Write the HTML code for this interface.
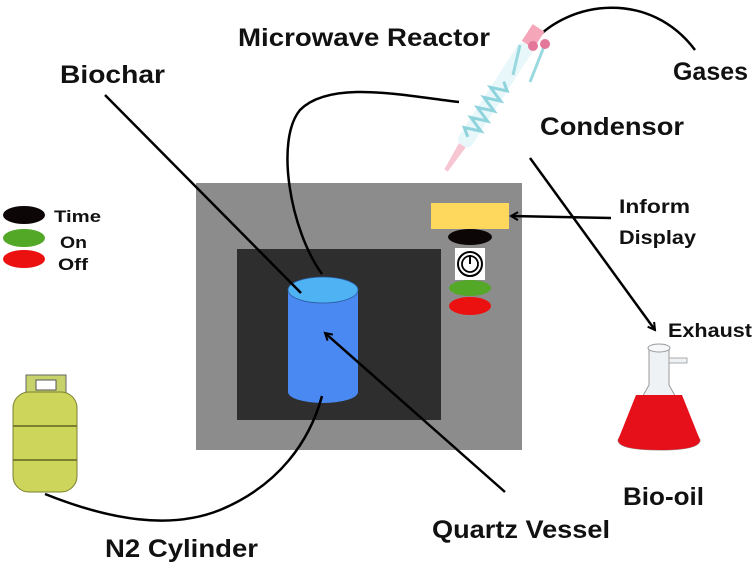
<!DOCTYPE html>
<html><head><style>
body{margin:0;background:#fff;}
svg{display:block;}
text{font-family:"Liberation Sans",sans-serif;font-weight:bold;fill:#111;}
</style></head><body>
<svg width="754" height="566" viewBox="0 0 754 566" xmlns="http://www.w3.org/2000/svg">
<defs>
<marker id="ah" markerWidth="10" markerHeight="10" refX="8" refY="5" orient="auto" markerUnits="userSpaceOnUse">
<path d="M1,1 L8,5 L1,9" fill="none" stroke="#000" stroke-width="2"/>
</marker>
</defs>
<rect x="196" y="183" width="326" height="267" fill="#8c8c8c"/>
<rect x="237" y="249" width="204" height="171" fill="#2e2e2e"/>
<rect x="431" y="203" width="78" height="26" fill="#fdd85c"/>
<ellipse cx="470" cy="237" rx="22" ry="8" fill="#0d0606"/>
<rect x="455" y="248" width="30" height="32" fill="#fff"/>
<circle cx="470" cy="264" r="12" fill="none" stroke="#000" stroke-width="2"/>
<circle cx="470" cy="264" r="8" fill="none" stroke="#000" stroke-width="1.8"/>
<line x1="470" y1="255" x2="470" y2="264" stroke="#000" stroke-width="2"/>
<ellipse cx="470" cy="288" rx="21" ry="8" fill="#53a827"/>
<ellipse cx="470" cy="306" rx="21" ry="9" fill="#ec1111"/>
<rect x="288" y="290" width="70" height="102" fill="#4a88f2"/>
<ellipse cx="323" cy="392" rx="35" ry="11" fill="#4a88f2"/>
<ellipse cx="323" cy="290" rx="35" ry="13" fill="#4eb2f3" stroke="#2a5aa0" stroke-width="0.8"/>
<ellipse cx="24" cy="215" rx="21" ry="9" fill="#0d0606"/>
<ellipse cx="24" cy="238" rx="21" ry="9" fill="#53a827"/>
<ellipse cx="24" cy="259" rx="21" ry="9" fill="#ec1111"/>
<text x="54" y="222" font-size="17" textLength="47" lengthAdjust="spacingAndGlyphs">Time</text>
<text x="60" y="248" font-size="17" textLength="27" lengthAdjust="spacingAndGlyphs">On</text>
<text x="58" y="270" font-size="17" textLength="30" lengthAdjust="spacingAndGlyphs">Off</text>
<line x1="105" y1="95" x2="301" y2="293" stroke="#000" stroke-width="2.5"/>
<path d="M322,274 C290,230 275,140 300,110 C330,80 400,95 459,102" fill="none" stroke="#000" stroke-width="2.5"/>
<path d="M533,42 C570,0 650,-10 695,50" fill="none" stroke="#000" stroke-width="2.5"/>
<line x1="530" y1="158" x2="655" y2="330" stroke="#000" stroke-width="2.5" marker-end="url(#ah)"/>
<line x1="611" y1="218" x2="511" y2="216" stroke="#000" stroke-width="2.5" marker-end="url(#ah)"/>
<line x1="505" y1="492" x2="325" y2="333" stroke="#000" stroke-width="2.5" marker-end="url(#ah)"/>
<path d="M45,494 C110,520 170,530 220,510 C280,485 310,440 322,396" fill="none" stroke="#000" stroke-width="2.5"/>
<g transform="translate(495,95) rotate(-57)">
<rect x="-60" y="-8" width="120" height="16" rx="6" fill="#e6f6fa" opacity="0.9"/>
<path d="M-50,0 l6,-8 l6,16 l6,-16 l6,16 l6,-16 l6,16 l6,-16 l6,16 l6,-16 l6,16 l6,-8" fill="none" stroke="#8fd3dd" stroke-width="3"/>
<path d="M-60,-4 L-90,-2 L-90,2 L-60,4 Z" fill="#f6c6d3"/>
<rect x="60" y="-7" width="20" height="14" fill="#f5a6b9"/>
</g>
<line x1="513" y1="75" x2="520" y2="45" stroke="#9ad8e0" stroke-width="3"/>
<line x1="530" y1="82" x2="545" y2="44" stroke="#9ad8e0" stroke-width="3"/>
<circle cx="533" cy="46" r="5" fill="#e4789a"/>
<circle cx="545" cy="44" r="5" fill="#e4789a"/>
<rect x="26" y="375" width="40" height="20" fill="#c8d26a" stroke="#666" stroke-width="1"/>
<rect x="36" y="380" width="20" height="10" fill="#fff" stroke="#555"/>
<rect x="13" y="392" width="64" height="100" rx="16" fill="#cdd55a" stroke="#7a8030" stroke-width="1"/>
<line x1="13" y1="426" x2="77" y2="426" stroke="#7a8030" stroke-width="2"/>
<line x1="13" y1="460" x2="77" y2="460" stroke="#7a8030" stroke-width="2"/>
<path d="M649,348 L669,348 L669,385 L700,440 Q700,450 660,450 Q618,450 618,440 L649,385 Z" fill="#eef2f5" stroke="#999" stroke-width="1"/>
<path d="M636,395 L682,395 L700,440 Q700,450 660,450 Q618,450 618,440 Z" fill="#e5101a"/>
<ellipse cx="659" cy="348" rx="11" ry="4" fill="#f5f7f8" stroke="#999"/>
<rect x="669" y="358" width="18" height="5" fill="#eef2f5" stroke="#999" stroke-width="0.8"/>
<text x="238" y="46" font-size="25" textLength="252" lengthAdjust="spacingAndGlyphs">Microwave Reactor</text>
<text x="60" y="83" font-size="25" textLength="105" lengthAdjust="spacingAndGlyphs">Biochar</text>
<text x="673" y="80" font-size="25" textLength="75" lengthAdjust="spacingAndGlyphs">Gases</text>
<text x="540" y="135" font-size="25" textLength="144" lengthAdjust="spacingAndGlyphs">Condensor</text>
<text x="619" y="213" font-size="19" textLength="71" lengthAdjust="spacingAndGlyphs">Inform</text>
<text x="619" y="244" font-size="19" textLength="77" lengthAdjust="spacingAndGlyphs">Display</text>
<text x="668" y="337" font-size="19" textLength="84" lengthAdjust="spacingAndGlyphs">Exhaust</text>
<text x="623" y="505" font-size="25" textLength="81" lengthAdjust="spacingAndGlyphs">Bio-oil</text>
<text x="432" y="538" font-size="25" textLength="178" lengthAdjust="spacingAndGlyphs">Quartz Vessel</text>
<text x="105" y="557" font-size="25" textLength="153" lengthAdjust="spacingAndGlyphs">N2 Cylinder</text>
</svg>
</body></html>
